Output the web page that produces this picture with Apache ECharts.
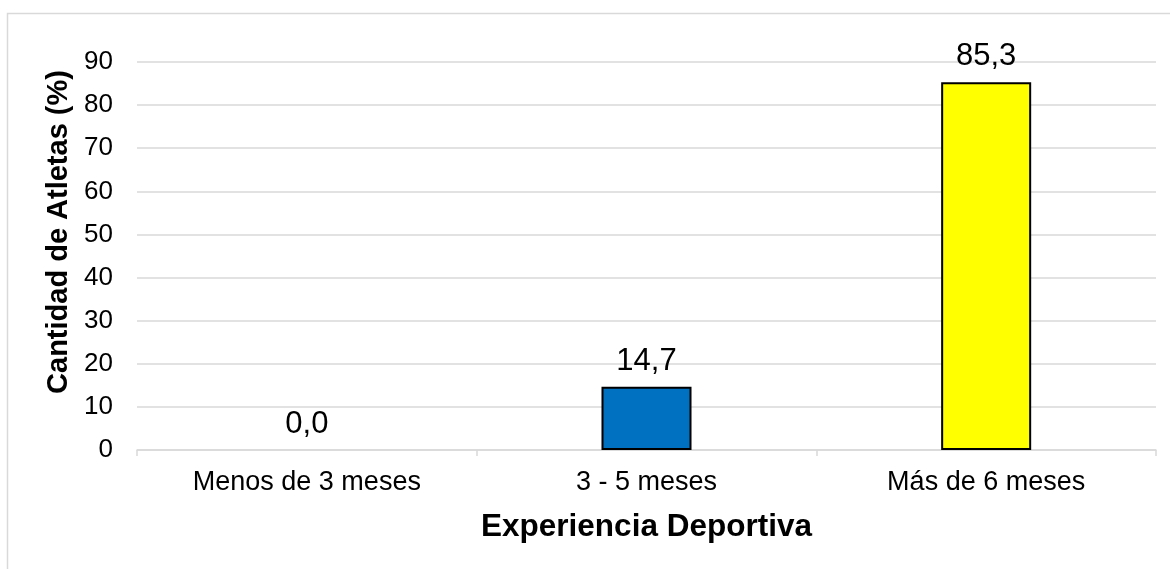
<!DOCTYPE html>
<html>
<head>
<meta charset="utf-8">
<style>
  html, body { margin: 0; padding: 0; background: #ffffff; }
  #chart { width: 1170px; height: 569px; }
</style>
<script src="https://cdn.jsdelivr.net/npm/echarts@6/dist/echarts.min.js"></script>
</head>
<body>
<div id="chart"></div>
<script>
// Experiencia deportiva de los atletas (porcentaje)
const categories = ['Menos de 3 meses', '3 - 5 meses', 'Más de 6 meses'];
const values = [0.0, 14.7, 85.3];
const barColors = ['#0070C0', '#0070C0', '#FFFF00'];
const yTicks = { min: 0, max: 90, interval: 10 };

const FONT = '"Liberation Sans", Arial, Helvetica, sans-serif';
const fmt = v => v.toFixed(1).replace('.', ',');

const chart = echarts.init(document.getElementById('chart'), null, { renderer: 'canvas' });

chart.setOption({
  backgroundColor: '#ffffff',
  animation: false,
  graphic: [{
    type: 'rect',
    left: 5, top: 11,
    shape: { width: 1200, height: 600 },
    style: { fill: 'none', stroke: '#d9d9d9', lineWidth: 1.5 },
    silent: true,
    z: -10
  }],
  grid: { left: 137, right: 14, top: 62, bottom: 119 },
  xAxis: {
    type: 'category',
    data: categories,
    name: 'Experiencia Deportiva',
    nameLocation: 'middle',
    nameGap: 61,
    nameTextStyle: { fontFamily: FONT, fontSize: 31.5, fontWeight: 'bold', color: '#000' },
    axisLine: { lineStyle: { color: '#d9d9d9', width: 1.5 } },
    axisTick: { show: true, length: 6, alignWithLabel: false, lineStyle: { color: '#d9d9d9', width: 1.5 } },
    axisLabel: { fontFamily: FONT, fontSize: 27, color: '#000', margin: 19 }
  },
  yAxis: {
    type: 'value',
    min: yTicks.min, max: yTicks.max, interval: yTicks.interval,
    name: 'Cantidad de Atletas (%)',
    nameLocation: 'middle',
    nameRotate: 90,
    nameGap: 64,
    nameTextStyle: { fontFamily: FONT, fontSize: 29, fontWeight: 'bold', color: '#000', padding: [0, 0, 0, 48] },
    axisLine: { show: false },
    axisTick: { show: false },
    splitLine: { lineStyle: { color: '#d9d9d9', width: 1.5 } },
    axisLabel: { fontFamily: FONT, fontSize: 26, color: '#000', margin: 24 }
  },
  series: [{
    type: 'bar',
    data: values.map((v, i) => ({
      value: v,
      // a zero-height bar draws no outline
      itemStyle: { color: barColors[i], borderColor: '#000', borderWidth: v === 0 ? 0 : 2 }
    })),
    barWidth: '26.5%',
    label: {
      show: true,
      position: 'top',
      distance: 10,
      formatter: p => fmt(p.value),
      fontFamily: FONT, fontSize: 31, color: '#000'
    }
  }]
});
</script>
</body>
</html>
